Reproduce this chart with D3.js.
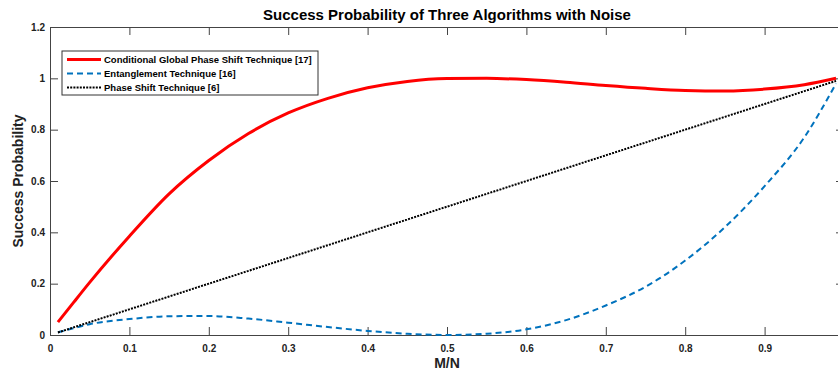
<!DOCTYPE html>
<html>
<head>
<meta charset="utf-8">
<script src="https://cdn.jsdelivr.net/npm/d3@7"></script>
<style>
  body { margin: 0; background: #fff; }
  text { font-family: "Liberation Sans", Arial, sans-serif; font-weight: bold; }
</style>
</head>
<body>
<div id="chart"></div>
<script>
// values
var mn = [0.01, 0.03, 0.05, 0.1, 0.15, 0.2, 0.25, 0.3, 0.35, 0.4, 0.45, 0.5, 0.55, 0.6, 0.65, 0.7, 0.75, 0.8, 0.85, 0.9, 0.95, 0.99]
var conditional = [0.05, 0.128, 0.205, 0.385, 0.55, 0.68, 0.785, 0.865, 0.922, 0.963, 0.988, 0.999, 1.0, 0.995, 0.985, 0.972, 0.961, 0.953, 0.951, 0.958, 0.975, 1.0]
var entanglement = [0.01, 0.027, 0.042, 0.062, 0.073, 0.074, 0.064, 0.048, 0.031, 0.016, 0.005, 0.0, 0.005, 0.022, 0.058, 0.115, 0.188, 0.29, 0.42, 0.58, 0.77, 0.98]
var phaseShift = [0.01, 0.03, 0.05, 0.1, 0.15, 0.2, 0.25, 0.3, 0.35, 0.4, 0.45, 0.5, 0.55, 0.6, 0.65, 0.7, 0.75, 0.8, 0.85, 0.9, 0.95, 0.99]
var seriesNames = ['Conditional Global Phase Shift Technique [17]', 'Entanglement Technique [16]', 'Phase Shift Technique [6]']
var xTicks = [0, 0.1, 0.2, 0.3, 0.4, 0.5, 0.6, 0.7, 0.8, 0.9]
var yTicks = [0, 0.2, 0.4, 0.6, 0.8, 1, 1.2]

var width = 838, height = 373
var pLeft = 50, pTop = 27, pRight = 844, pBottom = 335

var svg = d3.select('#chart').append('svg')
  .attr('width', width).attr('height', height)

var x = d3.scaleLinear().domain([0, 1]).range([pLeft, pRight])
var y = d3.scaleLinear().domain([0, 1.2]).range([pBottom, pTop])

var axisColor = '#444'

// axes with inward ticks (matlab style)
var gx = svg.append('g').attr('transform', 'translate(0,' + pBottom + ')')
  .call(d3.axisBottom(x).tickValues(xTicks).tickSize(-8).tickPadding(12).tickFormat(d3.format('')))
var gxt = svg.append('g').attr('transform', 'translate(0,' + pTop + ')')
  .call(d3.axisTop(x).tickValues(xTicks).tickSize(-8).tickFormat(''))
var gy = svg.append('g').attr('transform', 'translate(' + pLeft + ',0)')
  .call(d3.axisLeft(y).tickValues(yTicks).tickSize(-8).tickPadding(5).tickFormat(d3.format('')))
var gyr = svg.append('g').attr('transform', 'translate(' + pRight + ',0)')
  .call(d3.axisRight(y).tickValues(yTicks).tickSize(-8).tickFormat(''))

;[gx, gxt, gy, gyr].forEach(function(g){
  g.select('.domain').attr('stroke', axisColor).attr('stroke-width', 1)
  g.selectAll('.tick line').attr('stroke', axisColor)
  g.selectAll('.tick text').attr('fill', '#222').style('font-size', '10px').style('font-weight', 'bold')
    .style('font-family', '"Liberation Sans", Arial, sans-serif')
})
gx.selectAll('.tick text').attr('dy', '0.45em')

var line = d3.line()
  .x(function(d){ return x(d[0]) })
  .y(function(d){ return y(d[1]) })
  .curve(d3.curveMonotoneX)

var series = [
  {vals: conditional, color: '#ff0000', width: 3, dash: null},
  {vals: entanglement, color: '#0072bd', width: 2, dash: '6,4'},
  {vals: phaseShift, color: '#000', width: 2, dash: '2,1.2'}
]

svg.selectAll('path.series')
  .data(series)
  .enter()
  .append('path')
    .attr('class', 'series')
    .attr('fill', 'none')
    .attr('stroke', function(d){ return d.color })
    .attr('stroke-width', function(d){ return d.width })
    .attr('stroke-dasharray', function(d){ return d.dash })
    .attr('d', function(d){ return line(mn.map(function(m, i){ return [m, d.vals[i]] })) })

// title and labels
svg.append('text')
  .attr('x', (pLeft + pRight) / 2).attr('y', 20)
  .attr('text-anchor', 'middle')
  .style('font-size', '15px')
  .text('Success Probability of Three Algorithms with Noise')

svg.append('text')
  .attr('x', (pLeft + pRight) / 2).attr('y', 368)
  .attr('text-anchor', 'middle')
  .style('font-size', '14px')
  .attr('fill', '#222')
  .text('M/N')

svg.append('text')
  .attr('transform', 'translate(23,' + ((pTop + pBottom) / 2) + ') rotate(-90)')
  .attr('text-anchor', 'middle')
  .style('font-size', '14px')
  .attr('fill', '#222')
  .text('Success Probability')

// legend
var legend = svg.append('g').attr('transform', 'translate(62,51)')
legend.append('rect')
  .attr('width', 256).attr('height', 44)
  .attr('fill', '#fff').attr('stroke', '#333').attr('stroke-width', 1)

var items = legend.selectAll('g.item')
  .data(series)
  .enter()
  .append('g')
    .attr('transform', function(d, i){ return 'translate(0,' + (8.5 + i * 14) + ')' })

items.append('line')
  .attr('x1', 5).attr('x2', 39)
  .attr('stroke', function(d){ return d.color })
  .attr('stroke-width', function(d){ return d.width })
  .attr('stroke-dasharray', function(d){ return d.dash })

items.append('text')
  .attr('x', 42).attr('dy', '0.35em')
  .style('font-size', '9.5px')
  .text(function(d, i){ return seriesNames[i] })
</script>
</body>
</html>
